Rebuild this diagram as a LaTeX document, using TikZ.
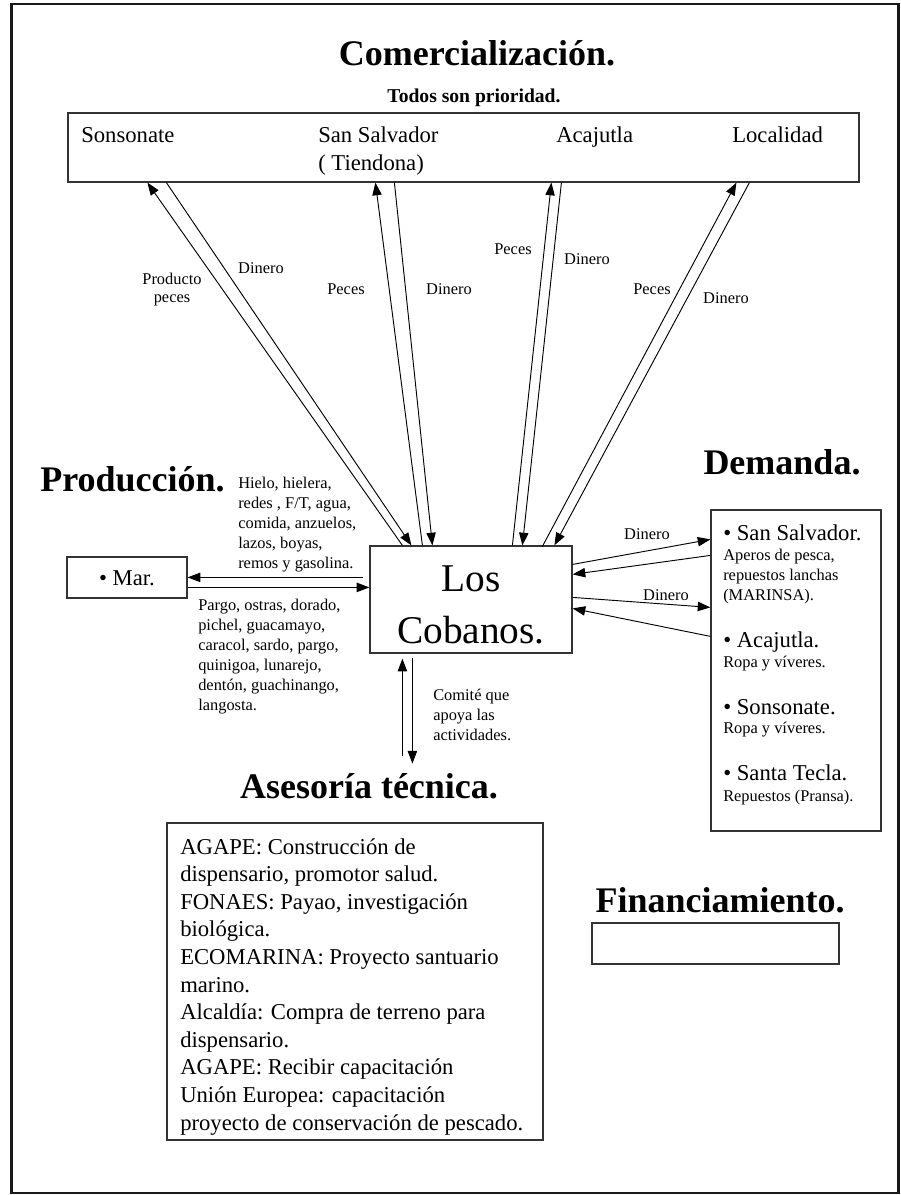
\documentclass[tikz,border=0pt]{standalone}
\usepackage{fontspec}
\setmainfont{Liberation Serif}
\usetikzlibrary{arrows.meta,calc,fit}

\tikzset{
  caja/.style={draw=black!80, line width=0.9pt, inner sep=0pt},
  flecha/.style={line width=0.7pt, -{Triangle[length=9.5pt,width=7pt]}},
  titulo/.style={font=\fontsize{27}{32}\selectfont\bfseries, inner sep=0pt, anchor=base},
  lugar/.style={font=\fontsize{17}{20.7}\selectfont, inner sep=0pt, anchor=base west},
  nota/.style={font=\fontsize{12.3}{15}\selectfont, inner sep=0pt, anchor=base},
}

\begin{document}
\begin{tikzpicture}[x=0.75pt,y=0.75pt,yscale=-1,xscale=1]
\useasboundingbox (0,0) rectangle (900,1195);

%Shape: Rectangle [marco]
\draw [line width=1.8pt, black!90] (11.5,4) rectangle (898.5,1193);

% Text Node
\node [titulo] (comercializacion) at (477,66) {Comercialización.};
% Text Node
\node [titulo, font=\fontsize{14.7}{17}\selectfont\bfseries] (prioridad) at (474,103) {Todos son prioridad.};

%Shape: Rectangle [comercio]
\node [caja, fit={(68,113) (859,182)}] (comercio) {};
% Text Node
\node [lugar] (sonsonate) at (81,143) {Sonsonate};
% Text Node (base = last line)
\node [lugar, align=left] (sansalvador) at (318,170.5) {San Salvador\\( Tiendona)};
% Text Node
\node [lugar] (acajutla) at (556,143) {Acajutla};
% Text Node
\node [lugar] (localidad) at (732,143) {Localidad};

%Shape: Rectangle [cobanos]
\node [caja, fit={(370,546) (572,653)}] (cobanos) {};
% Text Node
\node [titulo, font=\fontsize{29.5}{39}\selectfont, align=center] (loscobanos) at (471,643) {Los\\Cobanos.};

%Shape: Rectangle [mar]
\node [caja, fit={(67,557) (187,598)}] (mar) {};
% Text Node
\node [lugar, anchor=base] (martexto) at (127,585.5) {• Mar.};

% Text Node
\node [titulo, anchor=base west] (produccion) at (40,491) {Producción.};
% Text Node
\node [nota, anchor=base west, align=left] (insumos) at (238,568.5) {Hielo, hielera,\\redes , F/T, agua,\\comida, anzuelos,\\lazos, boyas,\\remos y gasolina.};
% Text Node
\node [nota, anchor=base west, align=left] (especies) at (198,710.5) {Pargo, ostras, dorado,\\pichel, guacamayo,\\caracol, sardo, pargo,\\quinigoa, lunarejo,\\dentón, guachinango,\\langosta.};

% Text Node
\node [titulo] (demanda) at (782,474) {Demanda.};
%Shape: Rectangle [mercados]
\node [caja, fit={(711,510) (881,831)}] (mercados) {};
% Text Node
\node [lugar] (mss) at (723,540.5) {• San Salvador.};
\node [nota, anchor=base west, align=left] (mssnota) at (723,600.5) {Aperos de pesca,\\repuestos lanchas\\(MARINSA).};
% Text Node
\node [lugar] (maca) at (723,647.5) {• Acajutla.};
\node [nota, anchor=base west] (macanota) at (723,667.5) {Ropa y víveres.};
% Text Node
\node [lugar] (mson) at (723,714.5) {• Sonsonate.};
\node [nota, anchor=base west] (msonnota) at (723,733.5) {Ropa y víveres.};
% Text Node
\node [lugar] (mtec) at (723,780.5) {• Santa Tecla.};
\node [nota, anchor=base west] (mtecnota) at (723,801) {Repuestos (Pransa).};

% Text Node
\node [titulo] (asesoria) at (369,798) {Asesoría técnica.};
%Shape: Rectangle [apoyo]
\node [caja, fit={(167,823) (543,1140)}] (apoyo) {};
% Text Node
\node [lugar, align=left] (apoyotexto) at (180,1130) {AGAPE: Construcción de\\dispensario, promotor salud.\\FONAES: Payao, investigación\\biológica.\\ECOMARINA: Proyecto santuario\\marino.\\Alcaldía: Compra de terreno para\\dispensario.\\AGAPE: Recibir capacitación\\Unión Europea: capacitación\\proyecto de conservación de pescado.};
% Text Node
\node [nota, anchor=base west, align=left] (comite) at (433,740) {Comité que\\apoya las\\actividades.};

% Text Node
\node [titulo] (financiamiento) at (720,912) {Financiamiento.};
%Shape: Rectangle [fondos]
\node [caja, fit={(592,923) (839,964)}] (fondos) {};

%Straight Lines [comercio]
\draw [flecha] ($(cobanos.north west)+(33,0)$) -- ($(comercio.south west)+(80,0)$);
\draw [flecha] ($(comercio.south west)+(99,0)$) -- ($(cobanos.north west)+(42,0)$);
\draw [flecha] ($(cobanos.north west)+(53,0)$) -- ($(comercio.south west)+(308,0)$);
\draw [flecha] ($(comercio.south west)+(327,0)$) -- ($(cobanos.north west)+(63,0)$);
\draw [flecha] ($(cobanos.north west)+(143,0)$) -- ($(comercio.south west)+(484,0)$);
\draw [flecha] ($(comercio.south west)+(494,0)$) -- ($(cobanos.north west)+(153,0)$);
\draw [flecha] ($(cobanos.north west)+(173,1)$) -- ($(comercio.south west)+(669,0)$);
\draw [flecha] ($(comercio.south west)+(682,0)$) -- ($(cobanos.north west)+(185,0)$);

%Straight Lines [mar]
\draw [flecha] ($(cobanos.north west)+(-6,32)$) -- ($(mar.north east)+(0,21)$);
\draw [flecha] ($(mar.north east)+(0,31)$) -- ($(cobanos.north west)+(0,42)$);

%Straight Lines [mercados]
\draw [flecha] ($(cobanos.north east)+(0,19)$) -- ($(mercados.north west)+(0,30)$);
\draw [flecha] ($(mercados.north west)+(0,46)$) -- ($(cobanos.north east)+(0,29)$);
\draw [flecha] ($(cobanos.north east)+(0,52)$) -- ($(mercados.north west)+(0,98)$);
\draw [flecha] ($(mercados.north west)+(0,127)$) -- ($(cobanos.north east)+(0,63)$);

%Straight Lines [apoyo]
\draw [flecha] ($(cobanos.south west)+(33,102)$) -- ($(cobanos.south west)+(33,5)$);
\draw [flecha] ($(cobanos.south west)+(43,4)$) -- ($(cobanos.south west)+(43,110)$);

% Text Node
\node [nota] (producto) at (172,284) {Producto};
\node [nota] (peces1) at (172,302) {peces};
\node [nota] (dinero1) at (261,273.5) {Dinero};
\node [nota] (peces2) at (346,294) {Peces};
\node [nota] (dinero2) at (449,294) {Dinero};
\node [nota] (peces3) at (513,254) {Peces};
\node [nota] (dinero3) at (587,264.5) {Dinero};
\node [nota] (peces4) at (652,294) {Peces};
\node [nota] (dinero4) at (726,303.5) {Dinero};
\node [nota] (dinero5) at (647,539.5) {Dinero};
\node [nota] (dinero6) at (666,600) {Dinero};

\end{tikzpicture}
\end{document}
